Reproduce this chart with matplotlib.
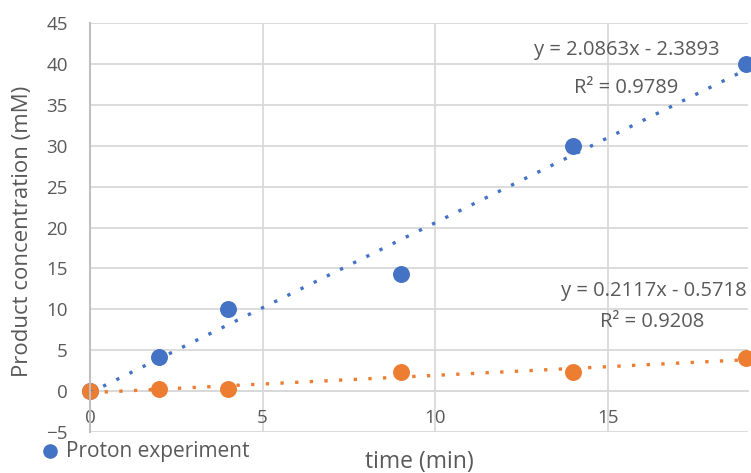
import matplotlib.pyplot as plt
import numpy as np

plt.rcParams['font.family'] = ['Open Sans', 'DejaVu Sans']

# dados
tempo = [0, 2, 4, 9, 14, 19]
proton = [0, 4.2, 10, 14.3, 30, 40]
controle = [0, 0.2, 0.2, 2.3, 2.3, 4]
ticks_x = [0, 5, 10, 15]
ticks_y = list(range(-5, 50, 5))
eq_proton = ["y = 2.0863x - 2.3893", "R² = 0.9789"]
eq_controle = ["y = 0.2117x - 0.5718", "R² = 0.9208"]

azul = '#4472C4'
laranja = '#ED7D31'
cinza = '#595959'
grade = '#D9D9D9'

fig = plt.figure(figsize=(7.51, 4.73), dpi=100)
ax = fig.add_axes([90 / 751, 1 - 432 / 473, 658 / 751, 409 / 473])

ax.scatter(tempo, proton, s=125, color=azul, zorder=3, clip_on=False,
           label='Proton experiment')
ax.scatter(tempo, controle, s=125, color=laranja, zorder=3, clip_on=False)

# linhas de tendencia (ajuste linear)
xs = np.array([tempo[0], tempo[-1]])
for ys, cor in [(proton, azul), (controle, laranja)]:
    a, b = np.polyfit(tempo, ys, 1)
    ax.plot(xs, a * xs + b, color=cor, lw=2.4, linestyle=(0, (1, 3.4)),
            dash_capstyle='butt', zorder=4, clip_on=False)

ax.set_xlim(0, 19.07)
ax.set_ylim(-5, 45)
ax.set_xticks(ticks_x)
ax.set_yticks(ticks_y)
ax.grid(True, color=grade, lw=1.3, zorder=5)
ax.set_axisbelow(False)

for s in ['top', 'right']:
    ax.spines[s].set_visible(False)
ax.spines['left'].set_color('#BFBFBF')
ax.spines['left'].set_linewidth(1.5)
ax.spines['left'].set_zorder(6)
ax.spines['bottom'].set_position(('data', 0))
ax.spines['bottom'].set_color(grade)
ax.spines['bottom'].set_linewidth(1.3)
ax.tick_params(length=0, labelsize=13.5, colors=cinza)
ax.tick_params(axis='y', pad=16)
ax.tick_params(axis='x', pad=13)

ax.set_ylabel("Product concentration (mM)", fontsize=16, color=cinza)
ax.yaxis.set_label_coords(-0.087, 0.49)
ax.set_xlabel("time (min)", fontsize=16.5, color=cinza)
ax.xaxis.set_label_coords(0.5, -0.045)

kw = dict(transform=ax.transAxes, ha='center', va='center', fontsize=14.5,
          color=cinza, zorder=7)
ax.text(0.816, 0.934, eq_proton[0], **kw)
ax.text(0.815, 0.841, eq_proton[1], **kw)
ax.text(0.857, 0.345, eq_controle[0], **kw)
ax.text(0.854, 0.269, eq_controle[1], **kw)

fig.legend(loc='center left', bbox_to_anchor=(27 / 751, 1 - 451 / 473),
           frameon=False, fontsize=15, labelcolor=cinza, handletextpad=0.15,
           markerscale=0.85, borderpad=0, handlelength=1.2)

fig.savefig("out.png", dpi=100)
